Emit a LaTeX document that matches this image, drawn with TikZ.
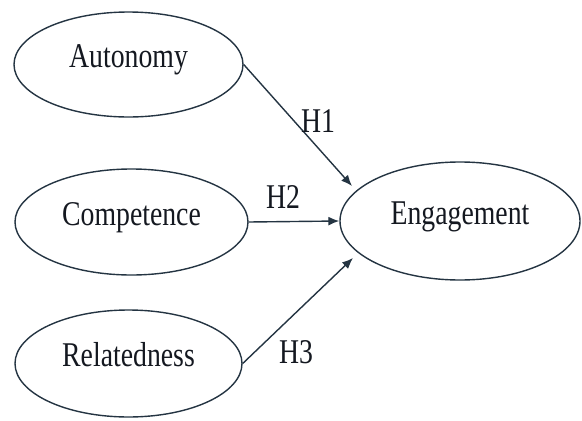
\documentclass[tikz,border=0pt]{standalone}
\usepackage{fontspec}
\setmainfont{Liberation Serif}
\usetikzlibrary{shapes.geometric,arrows.meta}
\definecolor{inkline}{RGB}{36,52,66}
\definecolor{inktext}{RGB}{20,24,32}
\newcommand{\narrow}[1]{\scalebox{0.8}[1]{#1}}
\begin{document}
\begin{tikzpicture}[x=1pt,y=-1pt,
  construct/.style={ellipse, draw=inkline, line width=1.4pt, inner sep=0pt,
    text=inktext, font=\fontsize{34.7}{40}\selectfont,
    text height=10pt, text depth=4pt},
  hyp/.style={anchor=base, inner sep=0pt, text=inktext,
    font=\fontsize{34.7}{40}\selectfont},
  path/.style={draw=inkline, line width=1.4pt,
    -{Latex[length=11pt,width=9pt]}}]
\useasboundingbox (0,0) rectangle (582,421);

% constructs
\node[construct, minimum width=229pt, minimum height=105pt] (aut)  at (128.5,64.5) {\narrow{Autonomy}};
\node[construct, minimum width=233pt, minimum height=106pt] (comp) at (131.5,222)  {\narrow{Competence}};
\node[construct, minimum width=227pt, minimum height=107pt] (rel)  at (128.5,363.5) {\narrow{Relatedness}};
\node[construct, minimum width=240pt, minimum height=118pt] (eng)  at (460,221)   {\narrow{Engagement}};

% arrow ends just short of the outcome ellipse
\coordinate (t1) at (352,186);
\coordinate (t3) at (353,258);

% hypothesised paths
\draw[path] (aut.east)  -- (t1);
\draw[path] (comp.east) -- (eng.west);
\draw[path] (rel.east)  -- (t3);

% path labels
\node[hyp] (h1) at (318,132) {\narrow{H1}};
\node[hyp] (h2) at (283,208) {\narrow{H2}};
\node[hyp] (h3) at (296,363) {\narrow{H3}};
\end{tikzpicture}
\end{document}
